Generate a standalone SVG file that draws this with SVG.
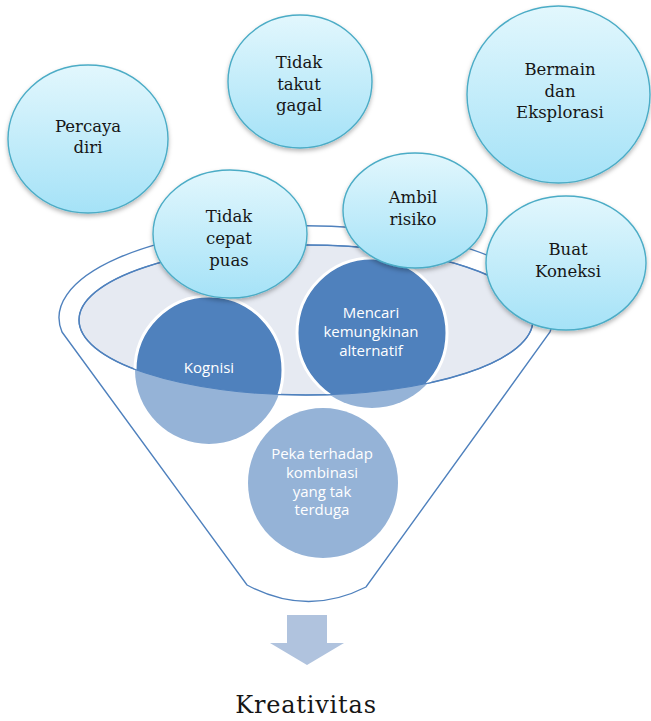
<svg xmlns="http://www.w3.org/2000/svg" width="651" height="721" viewBox="0 0 651 721">
  <style>
    .bubble { fill: url(#bubbleFill); stroke: #4BACC6; stroke-width: 1.4; filter: url(#softShadow); }
    .btxt { font-family: "DejaVu Serif", "Liberation Serif", serif; font-size: 16.5px; fill: #161616; text-anchor: middle; }
    .ctxt { font-family: "Open Sans", "Liberation Sans", sans-serif; font-size: 15px; fill: #ffffff; text-anchor: middle; }
    .funnel { fill: #ffffff; stroke: #4F81BD; stroke-width: 1.4; }
    .rim { fill: #E6EAF2; stroke: #4F81BD; stroke-width: 1.4; }
    .rim-line { fill: none; stroke: #4F81BD; stroke-width: 1.2; }
    .light { fill: #95B3D7; }
    .dark { fill: #4F81BD; stroke: #ffffff; stroke-width: 3; }
  </style>
  <defs>
    <linearGradient id="bubbleFill" x1="0" y1="0" x2="0" y2="1">
      <stop offset="0" stop-color="#E2F7FD"/>
      <stop offset="1" stop-color="#A5E2F7"/>
    </linearGradient>
    <filter id="softShadow" x="-20%" y="-20%" width="140%" height="150%">
      <feDropShadow dx="0" dy="2.5" stdDeviation="2.2" flood-color="#000000" flood-opacity="0.28"/>
    </filter>
    <clipPath id="rimClip">
      <ellipse cx="306" cy="320" rx="227" ry="75"/>
    </clipPath>
  </defs>

  <!-- funnel body and rim -->
  <g id="funnel">
    <path class="funnel" d="M 62 332 L 247 585 Q 307 617 366 587 L 550 332 A 247 92 0 1 0 62 332 Z"/>
    <ellipse class="rim" cx="306" cy="320" rx="227" ry="75"/>
  </g>

  <!-- circles inside the funnel: dark inside the rim, lighter below it -->
  <g id="kognisi">
    <circle class="light" cx="209" cy="370" r="74"/>
    <circle class="dark" cx="209" cy="370" r="74" clip-path="url(#rimClip)"/>
    <text class="ctxt" x="209" y="373">Kognisi</text>
  </g>
  <g id="mencari">
    <circle class="light" cx="372" cy="333" r="75"/>
    <circle class="dark" cx="372" cy="333" r="75" clip-path="url(#rimClip)"/>
    <text class="ctxt" x="371" y="318">Mencari</text>
    <text class="ctxt" x="371" y="337">kemungkinan</text>
    <text class="ctxt" x="371" y="356">alternatif</text>
  </g>
  <g id="peka">
    <circle class="light" cx="323" cy="483" r="75"/>
    <text class="ctxt" x="322" y="459">Peka terhadap</text>
    <text class="ctxt" x="322" y="478">kombinasi</text>
    <text class="ctxt" x="322" y="496.5">yang tak</text>
    <text class="ctxt" x="322" y="515">terduga</text>
  </g>

  <!-- rim outline redrawn over the circles -->
  <ellipse class="rim-line" cx="306" cy="320" rx="227" ry="75"/>

  <!-- bubbles above the funnel -->
  <g id="percaya-diri">
    <ellipse class="bubble" cx="88" cy="139" rx="80" ry="74"/>
    <text class="btxt" x="88" y="132">Percaya</text>
    <text class="btxt" x="88" y="153">diri</text>
  </g>
  <g id="tidak-takut-gagal">
    <ellipse class="bubble" cx="300" cy="81.5" rx="72" ry="66.5"/>
    <text class="btxt" x="299" y="68">Tidak</text>
    <text class="btxt" x="299" y="90">takut</text>
    <text class="btxt" x="299" y="111">gagal</text>
  </g>
  <g id="bermain-eksplorasi">
    <ellipse class="bubble" cx="558.5" cy="94.5" rx="91.5" ry="88.5"/>
    <text class="btxt" x="560" y="75">Bermain</text>
    <text class="btxt" x="560" y="97">dan</text>
    <text class="btxt" x="560" y="118">Eksplorasi</text>
  </g>
  <g id="tidak-cepat-puas">
    <ellipse class="bubble" cx="230" cy="234" rx="77" ry="64"/>
    <text class="btxt" x="229" y="222">Tidak</text>
    <text class="btxt" x="229" y="244">cepat</text>
    <text class="btxt" x="229" y="266">puas</text>
  </g>
  <g id="ambil-risiko">
    <ellipse class="bubble" cx="415" cy="210.5" rx="72" ry="57.5"/>
    <text class="btxt" x="413" y="203">Ambil</text>
    <text class="btxt" x="413" y="225">risiko</text>
  </g>
  <g id="buat-koneksi">
    <ellipse class="bubble" cx="566" cy="263" rx="80" ry="67"/>
    <text class="btxt" x="568" y="255">Buat</text>
    <text class="btxt" x="568" y="277">Koneksi</text>
  </g>

  <!-- output arrow -->
  <g id="connectors">
    <path d="M 287 615 L 327 615 L 327 643 L 344 643 L 307 665 L 270 643 L 287 643 Z" fill="#B0C3DE"/>
  </g>

  <g id="kreativitas">
    <text x="306" y="713" font-family="DejaVu Serif, Liberation Serif, serif" font-size="24" letter-spacing="0.8" fill="#161616" text-anchor="middle">Kreativitas</text>
  </g>
</svg>
